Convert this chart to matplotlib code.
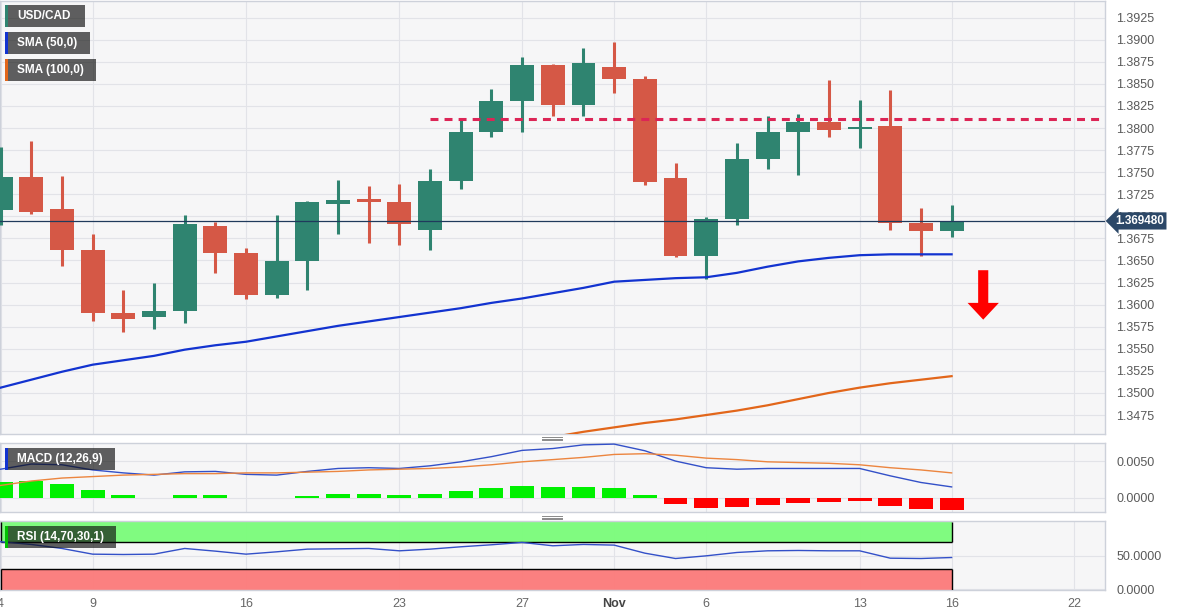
import numpy as np
import pandas as pd
import matplotlib
matplotlib.use('Agg')
from matplotlib import pyplot as plt
from matplotlib.patches import Rectangle, FancyArrow
from matplotlib.lines import Line2D
from matplotlib.transforms import blended_transform_factory

plt.rcParams['font.family'] = ['Liberation Sans', 'DejaVu Sans']

# Trading days shown on the axis (Oct 4 -> Nov 22, 2023)
days = pd.bdate_range('2023-10-04', '2023-11-22')
n_candles = 32

opens = [1.3707, 1.3745, 1.3708, 1.3662, 1.3590, 1.3586, 1.3593, 1.3689, 1.3659, 1.3611,
         1.3649, 1.3714, 1.3720, 1.3716, 1.3684, 1.3740, 1.3795, 1.3831, 1.3871, 1.3826,
         1.3869, 1.3856, 1.3744, 1.3655, 1.3697, 1.3765, 1.3796, 1.3807, 1.3799, 1.3802,
         1.3692, 1.3683]
closes = [1.3745, 1.3705, 1.3662, 1.3590, 1.3584, 1.3593, 1.3691, 1.3659, 1.3611, 1.3649,
          1.3716, 1.3719, 1.3716, 1.3691, 1.3740, 1.3796, 1.3831, 1.3871, 1.3826, 1.3874,
          1.3856, 1.3739, 1.3655, 1.3697, 1.3765, 1.3796, 1.3807, 1.3798, 1.3801, 1.3693,
          1.3683, 1.36948]
highs = [1.3779, 1.3785, 1.3746, 1.3680, 1.3617, 1.3624, 1.3702, 1.3694, 1.3664, 1.3702,
         1.3717, 1.3741, 1.3734, 1.3737, 1.3754, 1.3810, 1.3844, 1.3880, 1.3873, 1.3891,
         1.3898, 1.3859, 1.3760, 1.3699, 1.3783, 1.3814, 1.3816, 1.3854, 1.3832, 1.3843,
         1.3710, 1.3713]
lows = [1.3690, 1.3703, 1.3644, 1.3581, 1.3569, 1.3572, 1.3579, 1.3636, 1.3606, 1.3607,
        1.3617, 1.3680, 1.3670, 1.3668, 1.3662, 1.3731, 1.3790, 1.3796, 1.3814, 1.3814,
        1.3840, 1.3735, 1.3654, 1.3629, 1.3690, 1.3754, 1.3747, 1.3790, 1.3777, 1.3685,
        1.3655, 1.3677]

sma50 = [1.3506, 1.3515, 1.3524, 1.3532, 1.3537, 1.3542, 1.3549, 1.3554, 1.3558, 1.3564,
         1.3570, 1.3576, 1.3581, 1.3586, 1.3591, 1.3596, 1.3602, 1.3607, 1.3613, 1.3619,
         1.3626, 1.3628, 1.3630, 1.3631, 1.3636, 1.3643, 1.3649, 1.3653, 1.3656, 1.3657,
         1.3657, 1.3657]
# SMA 100 only enters the view from Oct 30 on
sma100_start = 18
sma100 = [1.3450, 1.3456, 1.3461, 1.3466, 1.3470, 1.3475, 1.3480, 1.3486, 1.3493, 1.3500,
          1.3506, 1.3511, 1.3515, 1.3519]

macd = [0.0039, 0.0046, 0.0045, 0.0038, 0.0034, 0.0031, 0.00354, 0.0036, 0.0032, 0.0031,
        0.0036, 0.0040, 0.0041, 0.0040, 0.00436, 0.0049, 0.0056, 0.00645, 0.0067, 0.0072,
        0.0073, 0.0064, 0.0050, 0.0041, 0.0039, 0.0040, 0.0040, 0.0040, 0.0040, 0.0030,
        0.0021, 0.0015]
signal = [0.0017, 0.0023, 0.0027, 0.0029, 0.0031, 0.0032, 0.0033, 0.0033, 0.0034, 0.0034,
          0.0035, 0.0036, 0.0038, 0.0039, 0.0040, 0.0042, 0.0045, 0.0049, 0.0052, 0.0055,
          0.0059, 0.0060, 0.0058, 0.0054, 0.0052, 0.0049, 0.0048, 0.0047, 0.0045, 0.0041,
          0.0038, 0.0034]
hist = [0.0022, 0.0023, 0.0019, 0.0011, 0.0004, 0.00002, 0.00036, 0.00036, -0.00003, -0.00003,
        0.0003, 0.0006, 0.0006, 0.0004, 0.00055, 0.00095, 0.0013, 0.00168, 0.0015, 0.00154,
        0.00136, 0.00036, -0.00086, -0.0013, -0.0012, -0.0009, -0.00064, -0.0005, -0.00045, -0.0011,
        -0.0015, -0.00168]

rsi = [71, 67, 61, 52.5, 52, 52.5, 61, 57, 52.5, 56,
       60, 60.5, 61, 57.5, 60, 63.5, 66.5, 70, 65, 67,
       66, 54, 46, 50, 55, 57.5, 58, 57.5, 57.5, 46.5,
       46, 47.5]

resistance = 1.3810
resistance_start = 14
last_price = 1.369480

main_ticks = np.round(np.arange(1.3475, 1.3926, 0.0025), 4)
tick_days = ['2023-10-04', '2023-10-09', '2023-10-16', '2023-10-23', '2023-10-27',
             '2023-11-01', '2023-11-06', '2023-11-13', '2023-11-16', '2023-11-22']
tick_labels = ['4', '9', '16', '23', '27', 'Nov', '6', '13', '16', '22']

GREEN = '#2f8470'
RED = '#d55846'
BG = '#f6f6f7'
GRID = '#e2e3e8'
EDGE = '#cdd1da'
LABEL = '#5a5a5a'

W, H = 1182, 616
fig = plt.figure(figsize=(W / 100, H / 100), dpi=100)
fig.patch.set_facecolor('white')


def panel(top, bottom):
    ax = fig.add_axes([0.0, 1 - bottom / H, 1105 / W, (bottom - top) / H])
    ax.set_facecolor(BG)
    for s in ax.spines.values():
        s.set_color(EDGE)
        s.set_linewidth(1)
    ax.yaxis.tick_right()
    ax.tick_params(axis='both', length=0, labelsize=9, labelcolor=LABEL)
    ax.tick_params(axis='y', pad=8)
    ax.grid(True, color=GRID, linewidth=0.8)
    ax.set_axisbelow(True)
    ax.set_xlim(-0.02, 36.0)
    return ax


x = np.arange(n_candles)
tick_pos = [days.get_loc(pd.Timestamp(d)) for d in tick_days]

# ---- main price panel
ax = panel(1, 434)
ax.set_ylim(1.34535, 1.39439)
ax.set_yticks(main_ticks)
ax.set_yticklabels([f'{v:.4f}' for v in main_ticks])
ax.set_xticks(tick_pos)
ax.tick_params(axis='x', labelbottom=False)

colors = [GREEN if c >= o else RED for o, c in zip(opens, closes)]
ax.vlines(x, lows, highs, colors=colors, linewidth=2.2, zorder=3)
ax.bar(x, np.abs(np.array(closes) - np.array(opens)), bottom=np.minimum(opens, closes),
       width=0.78, color=colors, zorder=4)

ax.plot(x, sma50, color='#1233d0', linewidth=1.6, zorder=5)
ax.plot(np.arange(sma100_start, sma100_start + len(sma100)), sma100, color='#e2661a',
        linewidth=1.6, zorder=5)
ax.plot([resistance_start, 36.0], [resistance, resistance], color='#dc2556',
        linewidth=2.2, linestyle=(0, (2.6, 2.0)), zorder=5)
ax.axhline(last_price, color='#1f3a5c', linewidth=0.9, zorder=6)

tr = blended_transform_factory(ax.transAxes, ax.transData)
ax.text(1.0 + 10 / 1105, last_price, f'{last_price:.6f}', transform=tr, ha='left', va='center',
        color='white', fontsize=8.5, fontweight='bold', clip_on=False, zorder=10,
        bbox=dict(boxstyle='larrow,pad=0.22', fc='#2c4868', ec='none'))

ax.add_patch(FancyArrow(32.03, 1.3639, 0, -0.0056, width=0.33, head_width=1.02,
                        head_length=0.0019, length_includes_head=True, color='#ff0000',
                        ec='none', zorder=6))

# ---- MACD panel
ax2 = panel(443, 512)
ax2.set_ylim(-0.0019, 0.00745)
ax2.set_yticks([0.0, 0.005])
ax2.set_yticklabels(['0.0000', '0.0050'])
ax2.set_xticks(tick_pos)
ax2.tick_params(axis='x', labelbottom=False)
hcol = ['#00f000' if h >= 0 else '#ff0000' for h in hist]
ax2.bar(x, hist, width=0.78, color=hcol, zorder=3)
ax2.plot(x, macd, color='#3350c8', linewidth=1.0, zorder=4)
ax2.plot(x, signal, color='#ec853f', linewidth=1.0, zorder=4)

# ---- RSI panel
ax3 = panel(521, 590)
ax3.set_ylim(-1, 102)
ax3.set_yticks([0, 50])
ax3.set_yticklabels(['0.0000', '50.0000'])
ax3.set_xticks(tick_pos)
ax3.set_xticklabels(tick_labels)
ax3.tick_params(axis='x', pad=6, labelcolor='#666666')
for lbl in ax3.get_xticklabels():
    if lbl.get_text() == 'Nov':
        lbl.set_fontweight('bold')
        lbl.set_color('#444444')
ax3.add_patch(Rectangle((0, 70), n_candles - 1, 30, fc='#7cfc7c', ec='none', alpha=0.97, zorder=2))
ax3.add_patch(Rectangle((0, -1), n_candles - 1, 31, fc='#fc7c7c', ec='none', alpha=0.97, zorder=2))
ax3.hlines([70, 30], 0, n_candles - 1, colors='black', linewidth=1, zorder=3)
ax3.vlines([0, n_candles - 1], 70, 100, colors='black', linewidth=1, zorder=3)
ax3.vlines([0, n_candles - 1], -1, 30, colors='black', linewidth=1, zorder=3)
ax3.plot(x, rsi, color='#3350c8', linewidth=1.0, zorder=4)

# ---- label boxes (pixel layout)
def label_box(x0, x1, y0, y1, text, stripe):
    fig.add_artist(Rectangle((x0 / W, 1 - y1 / H), (x1 - x0) / W, (y1 - y0) / H,
                             transform=fig.transFigure, fc=(0.05, 0.05, 0.05, 0.65), ec='none', zorder=20))
    fig.add_artist(Rectangle((x0 / W, 1 - y1 / H), 3 / W, (y1 - y0) / H,
                             transform=fig.transFigure, fc=stripe, ec='none', zorder=21))
    fig.text(17 / W, 1 - (y0 + y1) / 2 / H, text, color='white', fontsize=8.5, fontweight='bold',
             va='center', ha='left', zorder=22)


label_box(5, 85, 5, 27, 'USD/CAD', GREEN)
label_box(5, 90, 32, 54, 'SMA (50,0)', '#1233d0')
label_box(5, 96, 59, 81, 'SMA (100,0)', '#e2661a')
label_box(5, 115, 448, 470, 'MACD (12,26,9)', '#1233d0')
label_box(5, 116, 526, 548, 'RSI (14,70,30,1)', '#00c000')

# panel resize handles
for yc in (438.5, 517.5):
    for dy in (-1.6, 0, 1.6):
        fig.add_artist(Line2D([542 / W, 562 / W], [1 - (yc + dy) / H] * 2, color='#8a8a8a',
                              linewidth=0.7, transform=fig.transFigure))

fig.savefig('out.png', dpi=100, facecolor='white')
